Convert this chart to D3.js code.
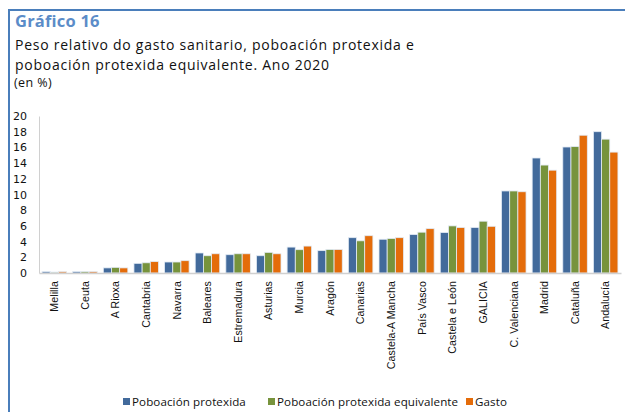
<!DOCTYPE html>
<html lang="gl"><head>
<meta charset="utf-8">
<title>Gráfico 16</title>
<script src="https://cdn.jsdelivr.net/npm/d3@7"></script>
<style>
  body { margin: 0; background: #fff; }
</style>
</head>
<body>
<script type="text/javascript">

// datos (en %)
var categories = ["Melilla", "Ceuta", "A Rioxa", "Cantabria", "Navarra", "Baleares",
    "Estremadura", "Asturias", "Murcia", "Aragón", "Canarias", "Castela-A Mancha",
    "País Vasco", "Castela e León", "GALICIA", "C. Valenciana", "Madrid", "Cataluña", "Andalucía"];
var seriesNames = ["Poboación protexida", "Poboación protexida equivalente", "Gasto"];
var poboacion   = [0.18, 0.18, 0.65, 1.23, 1.40, 2.55, 2.33, 2.20, 3.30, 2.85, 4.50, 4.30, 4.90, 5.15, 5.80, 10.45, 14.65, 16.05, 18.00];
var equivalente = [0.12, 0.18, 0.72, 1.30, 1.40, 2.20, 2.45, 2.63, 2.97, 3.00, 4.10, 4.40, 5.20, 6.00, 6.60, 10.45, 13.75, 16.10, 17.05];
var gasto       = [0.17, 0.18, 0.65, 1.45, 1.57, 2.45, 2.45, 2.45, 3.43, 3.00, 4.75, 4.50, 5.65, 5.80, 5.95, 10.35, 13.10, 17.55, 15.40];
var yTicks = [0, 2, 4, 6, 8, 10, 12, 14, 16, 18, 20];

var colors = ["#426a9b", "#77933c", "#e46c0a"];
var series = [poboacion, equivalente, gasto];

var width = 625, height = 412;

var svg = d3.select("body").append("svg")
    .attr("width", width)
    .attr("height", height);

// marco
svg.append("path")
    .attr("d", "M9,412 V10 H625")
    .attr("fill", "none")
    .attr("stroke", "#4a7ebb")
    .attr("stroke-width", 2);

// títulos
svg.append("text")
    .attr("x", 15).attr("y", 27)
    .attr("font-family", "'Open Sans', Lato, sans-serif")
    .attr("font-weight", "bold")
    .attr("font-size", 16.5)
    .attr("letter-spacing", 0.2)
    .attr("fill", "#5b8cc8")
    .text("Gráfico 16");

var sub = ["Peso relativo do gasto sanitario, poboación protexida e",
           "poboación protexida equivalente. Ano 2020"];
sub.forEach(function(t, i) {
    svg.append("text")
        .attr("x", 15).attr("y", 50 + i * 19.5)
        .attr("font-family", "'Open Sans', Lato, sans-serif")
        .attr("font-size", 14)
        .attr("letter-spacing", 0.75)
        .attr("fill", "#111")
        .text(t);
});
svg.append("text")
    .attr("x", 14).attr("y", 87)
    .attr("font-family", "'Open Sans', Lato, sans-serif")
    .attr("font-size", 12.5)
    .attr("letter-spacing", 0.4)
    .attr("fill", "#111")
    .text("(en %)");

// escalas
var x0 = d3.scaleBand()
    .domain(categories)
    .range([39, 621])
    .paddingInner(0.2)
    .paddingOuter(0.1);

var x1 = d3.scaleBand()
    .domain([0, 1, 2])
    .range([0, x0.bandwidth()]);

var y = d3.scaleLinear()
    .domain([0, 20])
    .range([273, 116]);

// eixo y
var yAxis = svg.append("g")
    .attr("transform", "translate(39,0)")
    .call(d3.axisLeft(y).tickValues(yTicks).tickSize(0).tickPadding(12));
yAxis.select(".domain").attr("stroke", "#d0d0d0");
yAxis.selectAll("text")
    .attr("font-family", "'DejaVu Sans', sans-serif")
    .attr("font-size", 11)
    .attr("fill", "#111");

// barras
var groups = svg.selectAll("g.grupo")
    .data(categories)
    .enter()
    .append("g")
    .attr("class", "grupo")
    .attr("transform", function(d) { return "translate(" + x0(d) + ",0)"; });

groups.selectAll("rect")
    .data(function(d, i) { return series.map(function(s, k) { return {k: k, v: s[i]}; }); })
    .enter()
    .append("rect")
    .attr("x", function(d) { return x1(d.k); })
    .attr("y", function(d) { return y(d.v); })
    .attr("width", x1.bandwidth())
    .attr("height", function(d) { return y(0) - y(d.v); })
    .attr("fill", function(d) { return colors[d.k]; })
    .attr("stroke", "#e3ebf5")
    .attr("stroke-width", 0.8);

// eixo x
var xAxis = svg.append("g")
    .attr("transform", "translate(0," + y(0) + ")")
    .call(d3.axisBottom(x0).tickSize(0).tickPadding(0));
xAxis.select(".domain").attr("stroke", "#d0d0d0").attr("stroke-width", 1.5);
xAxis.selectAll("text")
    .attr("font-family", "'Liberation Sans', Arial, sans-serif")
    .attr("font-size", 10.6)
    .attr("letter-spacing", 0.1)
    .attr("fill", "#111")
    .attr("text-anchor", "end")
    .attr("dy", "0.35em")
    .attr("transform", "translate(0,8) rotate(-90)")
    .attr("x", 0)
    .attr("y", 0);

// lenda
var legendX = [123, 268, 466];
var legend = svg.selectAll("g.lenda")
    .data(seriesNames)
    .enter()
    .append("g")
    .attr("class", "lenda")
    .attr("transform", function(d, i) { return "translate(" + legendX[i] + ",402)"; });
legend.append("rect")
    .attr("x", 0).attr("y", -4)
    .attr("width", 7).attr("height", 7)
    .attr("fill", function(d, i) { return colors[i]; });
legend.append("text")
    .attr("x", 9).attr("y", 0)
    .attr("dy", "0.35em")
    .attr("font-family", "'Open Sans', Arial, sans-serif")
    .attr("font-size", 11.6)
    .attr("letter-spacing", 0.1)
    .attr("fill", "#111")
    .text(function(d) { return d; });

</script>
</body></html>
